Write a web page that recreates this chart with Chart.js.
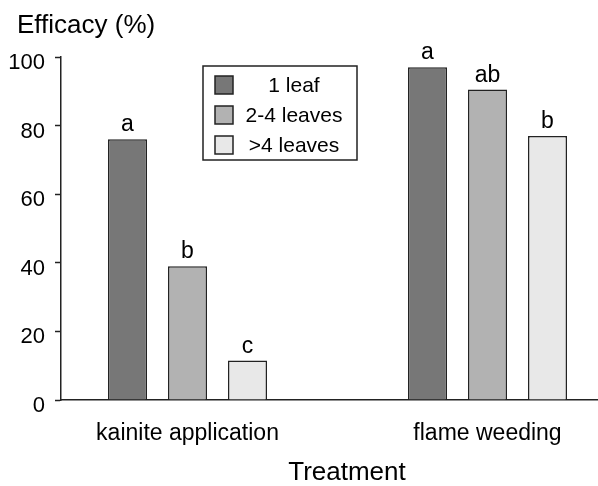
<!DOCTYPE html>
<html>
<head>
<meta charset="utf-8">
<script src="https://cdn.jsdelivr.net/npm/chart.js@4/dist/chart.umd.min.js"></script>
<style>
  body { margin: 0; background: #fff; }
  canvas { display: block; }
</style>
</head>
<body>
<canvas id="myChart" width="598" height="486"></canvas>
<script>
const treatments = ['kainite application', 'flame weeding']
const stages = ['1 leaf', '2-4 leaves', '>4 leaves']

// efficacy (%) per treatment
const oneLeaf = [76, 97]
const twoToFourLeaves = [39, 90.5]
const overFourLeaves = [11.5, 77]

// letters above the bars
const lettersOneLeaf = ['a', 'a']
const lettersTwoToFour = ['b', 'ab']
const lettersOverFour = ['c', 'b']

const yTicks = [0, 20, 40, 60, 80, 100]

const fillColors = ['#777777', '#b2b2b2', '#e8e8e8']
const lineColor = '#222222'
const fontFamily = '"Liberation Sans", Arial, sans-serif'

const seriesValues = [oneLeaf, twoToFourLeaves, overFourLeaves]
const seriesLetters = [lettersOneLeaf, lettersTwoToFour, lettersOverFour]

// letters + legend box + axis titles
const annotate = {
    id: 'annotate',
    afterDatasetsDraw(chart) {
        const ctx = chart.ctx
        ctx.save()
        ctx.fillStyle = '#000'
        ctx.font = '23px ' + fontFamily
        ctx.textAlign = 'center'
        ctx.textBaseline = 'alphabetic'
        chart.data.datasets.forEach((ds, i) => {
            chart.getDatasetMeta(i).data.forEach((bar, j) => {
                ctx.fillText(seriesLetters[i][j], bar.x, bar.y - 8)
            })
        })

        // legend
        ctx.lineWidth = 1.5
        ctx.strokeStyle = lineColor
        ctx.strokeRect(203, 66, 154, 94)
        ctx.font = '21px ' + fontFamily
        chart.data.datasets.forEach((ds, i) => {
            const cy = 85 + i * 30
            ctx.fillStyle = ds.backgroundColor
            ctx.fillRect(215, cy - 9, 18, 18)
            ctx.strokeRect(215, cy - 9, 18, 18)
            ctx.fillStyle = '#000'
            ctx.textAlign = 'center'
            ctx.textBaseline = 'middle'
            ctx.fillText(ds.label, 294, cy + 1)
        })

        // axis titles
        ctx.textBaseline = 'alphabetic'
        ctx.font = '26px ' + fontFamily
        ctx.textAlign = 'left'
        ctx.fillText('Efficacy (%)', 17, 33)
        ctx.textAlign = 'center'
        ctx.fillText('Treatment', 347, 480)
        ctx.restore()
    }
}

const myChart = new Chart(document.querySelector('#myChart').getContext('2d'), {
    type: 'bar',
    data: {
        datasets: stages.map((stage, i) => ({
            label: stage,
            data: seriesValues[i].map((v, j) => ({ x: j, y: v })),
            backgroundColor: fillColors[i],
            borderColor: lineColor,
            borderWidth: 1.5,
            categoryPercentage: 0.6,
            barPercentage: 0.65
        }))
    },
    options: {
        responsive: false,
        animation: false,
        layout: { padding: { top: 57, left: 0, right: 0, bottom: 0 } },
        plugins: {
            legend: { display: false },
            tooltip: { enabled: false }
        },
        scales: {
            x: {
                type: 'linear',
                offset: false,
                min: -0.4217,
                max: 1.3683,
                afterBuildTicks: (scale) => {
                    scale.ticks = treatments.map((t, i) => ({ value: i }))
                },
                afterFit: (scale) => { scale.height = 86 },
                grid: { display: true, offset: false, drawOnChartArea: false, drawTicks: false },
                border: { display: true, color: lineColor, width: 1.5 },
                ticks: {
                    padding: 20,
                    color: '#000',
                    font: { size: 23, family: fontFamily },
                    maxRotation: 0,
                    callback: (value) => treatments[value]
                }
            },
            y: {
                min: 0,
                max: 100,
                afterBuildTicks: (scale) => {
                    scale.ticks = yTicks.map(v => ({ value: v }))
                },
                afterFit: (scale) => { scale.width = 61 },
                grid: { display: true, drawOnChartArea: false, drawTicks: true, tickLength: 6, tickColor: lineColor, tickWidth: 1.5 },
                border: { display: true, color: lineColor, width: 1.5 },
                ticks: {
                    padding: 10,
                    labelOffset: 6,
                    color: '#000',
                    font: { size: 22, family: fontFamily }
                }
            }
        }
    },
    plugins: [annotate]
})
</script>
</body>
</html>
